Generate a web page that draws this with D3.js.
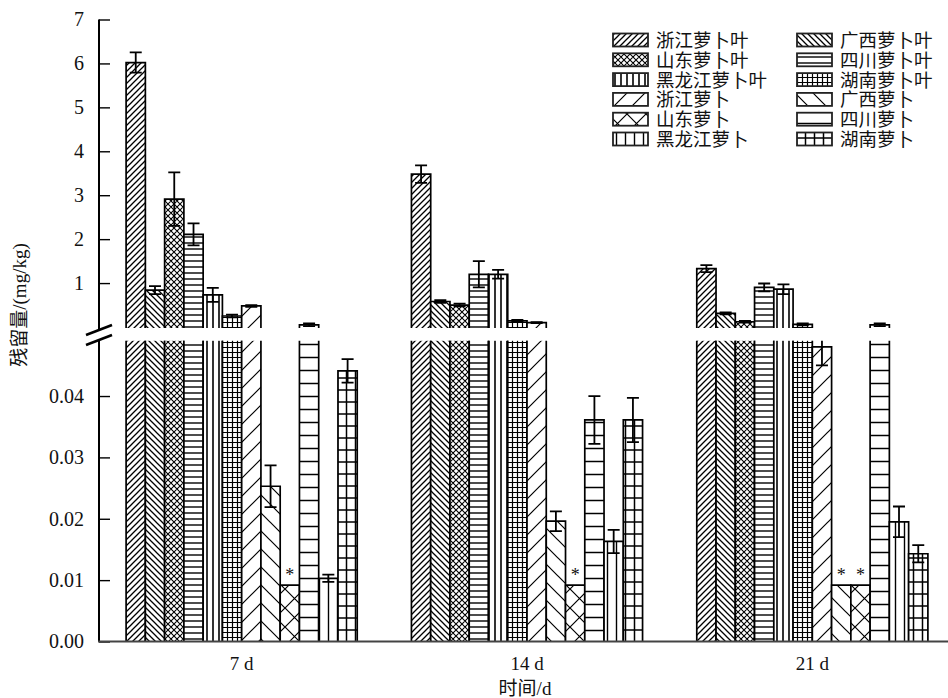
<!DOCTYPE html>
<html>
<head>
<meta charset="utf-8">
<script src="https://cdn.jsdelivr.net/npm/d3@7/dist/d3.min.js"></script>
<style>
  html, body { margin: 0; padding: 0; background: #fff; }
  svg { display: block; }
  text { font-family: "Liberation Serif", "Noto Sans CJK SC", serif; fill: #111; }
</style>
</head>
<body>
<script>
// Sampling days (x categories)
const days = ["7 d", "14 d", "21 d"];

// Sample series, in bar order within each day
const series = ["浙江萝卜叶", "广西萝卜叶", "山东萝卜叶", "四川萝卜叶", "黑龙江萝卜叶", "湖南萝卜叶",
                "浙江萝卜", "广西萝卜", "山东萝卜", "四川萝卜", "黑龙江萝卜", "湖南萝卜"];

// Residue (mg/kg) and standard deviation, one array per day
const day7     = [6.02, 0.84, 2.91, 2.11, 0.73, 0.25, 0.48, 0.0253, 0.0092, 0.05, 0.0103, 0.0441];
const day7Sd   = [0.23, 0.09, 0.61, 0.25, 0.16, 0.03, 0.02, 0.0034, 0, 0.03, 0.0006, 0.0019];
const day14    = [3.48, 0.58, 0.50, 1.20, 1.20, 0.14, 0.10, 0.0196, 0.0092, 0.0361, 0.0163, 0.0361];
const day14Sd  = [0.20, 0.03, 0.03, 0.30, 0.10, 0.02, 0.01, 0.0016, 0, 0.0039, 0.0019, 0.0036];
const day21    = [1.33, 0.31, 0.12, 0.90, 0.86, 0.06, 0.048, 0.0092, 0.0092, 0.05, 0.0195, 0.0143];
const day21Sd  = [0.08, 0.02, 0.02, 0.09, 0.11, 0.02, 0.003, 0, 0, 0.03, 0.0025, 0.0014];

// Bars marked with "*" (below the limit of quantification), by series index
const day7Star  = [8];
const day14Star = [8];
const day21Star = [7, 8];

// Tick labels of the broken y axis
const upperTicks = [1, 2, 3, 4, 5, 6, 7];
const lowerTicks = [0, 0.01, 0.02, 0.03, 0.04];

const values = [day7, day14, day21];
const sds = [day7Sd, day14Sd, day21Sd];
const stars = [day7Star, day14Star, day21Star];

const W = 948, H = 698;
const svg = d3.select("body").append("svg").attr("width", W).attr("height", H);
svg.append("rect").attr("width", W).attr("height", H).attr("fill", "#fff");

// ---------- hatch patterns ----------
const defs = svg.append("defs");
function pattern(id, w, h, d, sw) {
  const p = defs.append("pattern").attr("id", id)
    .attr("patternUnits", "userSpaceOnUse").attr("width", w).attr("height", h);
  p.append("rect").attr("width", w).attr("height", h).attr("fill", "#fff");
  p.append("path").attr("d", d).attr("stroke", "#000").attr("stroke-width", sw || 1.2)
    .attr("fill", "none").attr("shape-rendering", "geometricPrecision");
}
const fwd = s => `M0,${s} L${s},0 M${-s/2},${s/2} L${s/2},${-s/2} M${s/2},${s*1.5} L${s*1.5},${s/2}`;
const bwd = s => `M0,0 L${s},${s} M${-s/2},${s/2} L${s/2},${s*1.5} M${s/2},${-s/2} L${s*1.5},${s/2}`;
pattern("p0", 6, 6, fwd(6), 1.3);
pattern("p1", 6, 6, bwd(6), 1.3);
pattern("p2", 6, 6, fwd(6) + bwd(6), 1.1);
pattern("p3", 6, 6, "M0,3 H6", 1.4);
pattern("p4", 6, 6, "M3,0 V6", 1.6);
pattern("p5", 5, 5, "M0,2.5 H5 M2.5,0 V5", 1.2);
pattern("p6", 18, 18, fwd(18), 1.2);
pattern("p7", 18, 18, bwd(18), 1.2);
pattern("p8", 19, 19, fwd(19) + bwd(19), 1.2);
pattern("p9", 13, 13, "M0,6.5 H13", 1.5);
pattern("p10", 9, 13, "M4.5,0 V13", 1.4);
pattern("p11", 9, 12, "M0,6 H9 M4.5,0 V12", 1.5);

// ---------- scales ----------
const x0 = d3.scaleBand().domain(days).range([99, 955]).paddingInner(0.19).paddingOuter(0.095);
const x1 = d3.scaleBand().domain(d3.range(series.length)).range([0, x0.bandwidth()]);
const yU = d3.scaleLinear().domain([0, 7]).range([327, 19.5]);
const yL = d3.scaleLinear().domain([0, 0.049]).range([641.5, 340.8]);
const lowTop = yL.domain()[1];

// ---------- bars ----------
const bars = [];
days.forEach((d, gi) => {
  series.forEach((s, si) => {
    bars.push({ day: d, si, v: values[gi][si], sd: sds[gi][si], star: stars[gi].includes(si) });
  });
});

const gBars = svg.append("g");
bars.forEach(b => {
  const x = x0(b.day) + x1(b.si), w = x1.bandwidth();
  const fill = `url(#p${b.si})`;
  const g = gBars.append("g");
  // lower panel
  const topL = b.v > lowTop ? yL(lowTop) : yL(b.v);
  g.append("rect").attr("x", x).attr("y", topL).attr("width", w).attr("height", yL(0) - topL).attr("fill", fill);
  const pathL = b.v > lowTop
    ? `M${x},${topL} V${yL(0)} M${x + w},${topL} V${yL(0)}`
    : `M${x},${yL(0)} V${topL} H${x + w} V${yL(0)}`;
  g.append("path").attr("d", pathL).attr("stroke", "#000").attr("stroke-width", 1.7).attr("fill", "none");
  // upper panel
  if (b.v > lowTop) {
    const bot = yU(0) + 1, top = yU(b.v);
    g.append("rect").attr("x", x).attr("y", top).attr("width", w).attr("height", bot - top).attr("fill", fill);
    g.append("path").attr("d", `M${x},${bot} V${top} H${x + w} V${bot}`)
      .attr("stroke", "#000").attr("stroke-width", 1.7).attr("fill", "none");
  }
  // error bar
  if (b.sd > 0) {
    const cx = x + w / 2, cap = 6;
    let y1, y2, capTop = true, capBot = true;
    if (b.v > lowTop) {
      y1 = yU(b.v + b.sd);
      y2 = yU(Math.max(b.v - b.sd, 0));
      if (b.v - b.sd <= 0) capBot = false;
    } else {
      const hi = b.v + b.sd;
      if (hi > lowTop) { y1 = yL(lowTop); capTop = false; } else y1 = yL(hi);
      y2 = yL(b.v - b.sd);
    }
    let d = `M${cx},${y1} V${y2}`;
    if (capTop) d += ` M${cx - cap},${y1} H${cx + cap}`;
    if (capBot) d += ` M${cx - cap},${y2} H${cx + cap}`;
    g.append("path").attr("d", d).attr("stroke", "#000").attr("stroke-width", 1.8).attr("fill", "none");
  }
  if (b.star) {
    g.append("text").attr("x", x + w / 2).attr("y", yL(b.v) - 4)
      .attr("text-anchor", "middle").attr("font-size", 18).text("*");
  }
});

// ---------- axes ----------
const axU = d3.axisLeft(yU).tickValues(upperTicks).tickFormat(d3.format("d"))
  .tickSizeInner(-11).tickSizeOuter(0).tickPadding(15);
const axL = d3.axisLeft(yL).tickValues(lowerTicks).tickFormat(d3.format(".2f"))
  .tickSizeInner(-11).tickSizeOuter(0).tickPadding(15);

[axU, axL].forEach(ax => {
  const g = svg.append("g").attr("transform", "translate(99,0)").call(ax);
  g.select(".domain").remove();
  g.selectAll(".tick line").attr("stroke", "#000").attr("stroke-width", 1.4);
  g.selectAll(".tick text").attr("font-size", 20).attr("fill", "#111")
    .style("font-family", "'Liberation Serif', serif");
});

// axis spines
svg.append("line").attr("x1", 99).attr("x2", 99).attr("y1", yU(7)).attr("y2", 330)
  .attr("stroke", "#000").attr("stroke-width", 2);
svg.append("line").attr("x1", 99).attr("x2", 99).attr("y1", 340).attr("y2", yL(0))
  .attr("stroke", "#000").attr("stroke-width", 2);
svg.append("line").attr("x1", 98).attr("x2", W).attr("y1", yL(0)).attr("y2", yL(0))
  .attr("stroke", "#444").attr("stroke-width", 2.2);

// break marks
[330, 340].forEach(yc => {
  svg.append("line").attr("x1", 86).attr("y1", yc + 5).attr("x2", 112).attr("y2", yc - 5)
    .attr("stroke", "#000").attr("stroke-width", 2.6);
});

// x labels
svg.append("g").selectAll("text").data(days).join("text")
  .attr("x", d => x0(d) + x0.bandwidth() / 2).attr("y", 670)
  .attr("text-anchor", "middle").attr("font-size", 19).text(d => d);
svg.append("text").attr("x", 525).attr("y", 695).attr("text-anchor", "middle")
  .attr("font-size", 19).text("时间/d");
svg.append("text").attr("transform", "translate(26,305) rotate(-90)")
  .attr("text-anchor", "middle").attr("font-size", 19).text("残留量/(mg/kg)");

// ---------- legend ----------
const legend = svg.append("g");
series.forEach((s, i) => {
  const col = i % 2, row = Math.floor(i / 2);
  const bx = col === 0 ? 613 : 797, cy = 40 + row * 19.8;
  legend.append("rect").attr("x", bx).attr("y", cy - 6.5).attr("width", 35).attr("height", 13)
    .attr("fill", `url(#p${i})`).attr("stroke", "#222").attr("stroke-width", 1.8);
  legend.append("text").attr("x", bx + 43).attr("y", cy + 7).attr("font-size", 18.5)
    .style("font-family", "'Noto Sans CJK SC', sans-serif").text(s);
});
</script>
</body>
</html>
